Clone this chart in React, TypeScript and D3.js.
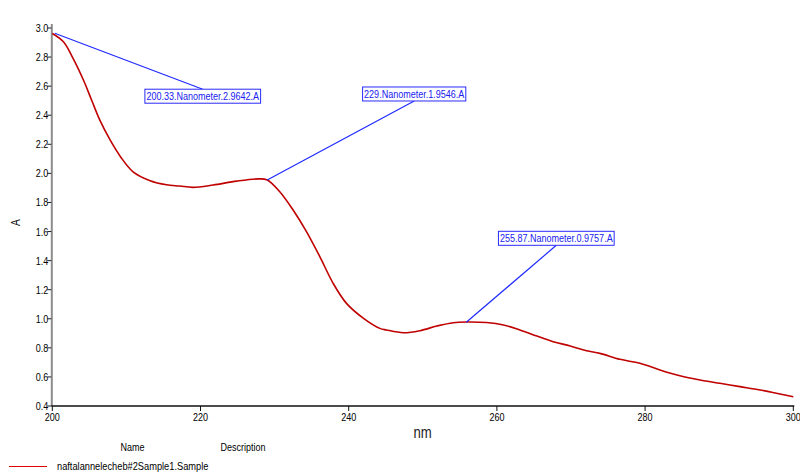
import React, { useEffect, useRef } from "react";
import * as d3 from "d3";

// Spectrum (nm vs absorbance A)
const wavelengths = [200, 201.5, 202.8, 204.2, 205.3, 206.4, 207.8, 209.2, 210.9, 213.2, 215.4, 217.2, 219.0, 221.7, 224.9, 227.8, 229.0, 230.7, 232.5, 234.3, 236.1, 237.9, 239.7, 242.0, 244.2, 245.1, 247.4, 249.6, 251.9, 254.1, 255.9, 258.6, 260.9, 263.1, 265.4, 267.6, 269.9, 272.1, 273.9, 276.6, 279.3, 282.0, 284.7, 287.4, 290.1, 292.8, 295.5, 298.2, 300];
const absorbance = [2.962, 2.905, 2.791, 2.642, 2.505, 2.368, 2.230, 2.115, 2.011, 1.950, 1.922, 1.913, 1.904, 1.920, 1.947, 1.962, 1.955, 1.874, 1.748, 1.599, 1.427, 1.244, 1.106, 1.003, 0.934, 0.923, 0.904, 0.918, 0.950, 0.973, 0.978, 0.974, 0.957, 0.923, 0.881, 0.842, 0.813, 0.780, 0.762, 0.721, 0.694, 0.648, 0.608, 0.579, 0.556, 0.533, 0.510, 0.483, 0.464];

const xTicks = [200, 220, 240, 260, 280, 300];
const yTicks = [0.4, 0.6, 0.8, 1.0, 1.2, 1.4, 1.6, 1.8, 2.0, 2.2, 2.4, 2.6, 2.8, 3.0];

const peakNm = [200.33, 229, 255.87];
const peakA = [2.9642, 1.9546, 0.9757];
const peakLabels = ["200.33.Nanometer.2.9642.A", "229.Nanometer.1.9546.A", "255.87.Nanometer.0.9757.A"];

const legendName = "naftalannelecheb#2Sample1.Sample";

// layout of annotation boxes (offset of leader end from the peak point)
const labelLayout = [
  { dx: 148, dy: 56, attach: "top" },
  { dx: 147, dy: -79, attach: "bottom" },
  { dx: 90, dy: -77, attach: "bottom" },
];

const FONT = "'Liberation Sans', Arial, sans-serif";
const NARROW = 0.82;

export default function App() {
  const ref = useRef<SVGSVGElement>(null);

  useEffect(() => {
    const svg = d3.select(ref.current);
    svg.selectAll("*").remove();

    const x = d3.scaleLinear().domain([200, 300]).range([52.3, 793.3]);
    const y = d3.scaleLinear().domain([0.4, 3.0]).range([406, 28]);

    const narrowText = (
      g: any,
      tx: number,
      ty: number,
      str: string,
      size: number,
      anchor: string,
      fill = "#000",
      rotate = 0
    ) =>
      g
        .append("text")
        .attr("transform", `translate(${tx},${ty}) rotate(${rotate}) scale(${NARROW},1)`)
        .attr("font-family", FONT)
        .attr("font-size", size)
        .attr("text-anchor", anchor)
        .attr("fill", fill)
        .text(str);

    // y axis
    svg
      .append("line")
      .attr("x1", x(200) - 0.5)
      .attr("x2", x(200) - 0.5)
      .attr("y1", y(3.0) - 4)
      .attr("y2", y(0.4))
      .attr("stroke", "#8c8c8c")
      .attr("stroke-width", 2);
    yTicks.forEach((t) => {
      svg
        .append("line")
        .attr("x1", x(200) - 5)
        .attr("x2", x(200) - 1)
        .attr("y1", y(t))
        .attr("y2", y(t))
        .attr("stroke", "#222")
        .attr("stroke-width", 1);
      narrowText(svg, x(200) - 4, y(t) + 4, t.toFixed(1), 11, "end");
    });

    // x axis
    svg
      .append("line")
      .attr("x1", x(200) - 1)
      .attr("x2", x(300) + 1)
      .attr("y1", y(0.4))
      .attr("y2", y(0.4))
      .attr("stroke", "#111")
      .attr("stroke-width", 1.5);
    xTicks.forEach((t) => {
      svg
        .append("line")
        .attr("x1", x(t))
        .attr("x2", x(t))
        .attr("y1", y(0.4))
        .attr("y2", y(0.4) + 5)
        .attr("stroke", "#111")
        .attr("stroke-width", 1);
      narrowText(svg, x(t), 421, String(t), 11, "middle");
    });

    // axis titles
    narrowText(svg, 422.5, 438, "nm", 16, "middle", "#222");
    narrowText(svg, 19.5, 222.5, "A", 12.5, "middle", "#000", -90);

    // curve
    const pts = wavelengths.map((w, i) => [w, absorbance[i]] as [number, number]);
    const line = d3
      .line<[number, number]>()
      .x((d) => x(d[0]))
      .y((d) => y(d[1]))
      .curve(d3.curveCatmullRom.alpha(0.5));
    svg
      .append("path")
      .attr("d", line(pts))
      .attr("fill", "none")
      .attr("stroke", "#c00000")
      .attr("stroke-width", 1.6);

    // annotations
    peakNm.forEach((n, i) => {
      const px = x(n);
      const py = y(peakA[i]);
      const L = labelLayout[i];
      const ex = px + L.dx;
      const ey = py + L.dy;
      svg
        .append("line")
        .attr("x1", px)
        .attr("y1", py)
        .attr("x2", ex)
        .attr("y2", ey)
        .attr("stroke", "#1f2bff")
        .attr("stroke-width", 1.2);
      const g = svg.append("g");
      const h = 14;
      const top = L.attach === "top" ? ey : ey - h;
      const rect = g.append("rect");
      const t = narrowText(g, ex, top + 11, peakLabels[i], 11, "middle", "#2020f0");
      const w = (t.node() as SVGTextElement).getComputedTextLength() * NARROW + 3;
      rect
        .attr("x", ex - w / 2)
        .attr("y", top)
        .attr("width", w)
        .attr("height", h)
        .attr("fill", "#fff")
        .attr("stroke", "#2a2aff")
        .attr("stroke-width", 1);
    });

    // legend
    narrowText(svg, 120.5, 451, "Name", 11, "start");
    narrowText(svg, 220.5, 451, "Description", 11, "start");
    svg
      .append("line")
      .attr("x1", 9)
      .attr("x2", 47)
      .attr("y1", 466.5)
      .attr("y2", 466.5)
      .attr("stroke", "#e00000")
      .attr("stroke-width", 1);
    narrowText(svg, 57, 469.5, legendName, 11.3, "start");
  }, []);

  return (
    <svg
      ref={ref}
      width={800}
      height={472}
      style={{ position: "absolute", left: 0, top: 0, background: "#fff" }}
    />
  );
}
